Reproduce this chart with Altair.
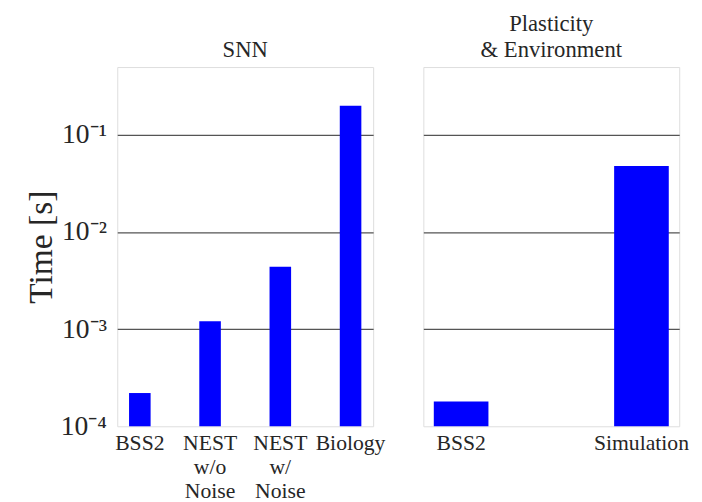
import altair as alt
import pandas as pd

# ---- data ----
snn_categories = ["BSS2", "NEST\nw/o\nNoise", "NEST\nw/\nNoise", "Biology"]
snn_times = [2.2e-4, 1.21e-3, 4.4e-3, 0.20]
env_categories = ["BSS2", "Simulation"]
env_times = [1.8e-4, 0.048]
y_tick_values = [1e-4, 1e-3, 1e-2, 1e-1]
y_tick_labels = ["10⁻⁴", "10⁻³", "10⁻²", "10⁻¹"]
y_min, y_max = 1e-4, 0.5
snn_title = "SNN"
env_title = ["Plasticity", "& Environment"]
y_title = "Time [s]"

FONT = "Liberation Serif"
TEXT = "#262626"
BAR = "#0000ff"

snn_df = pd.DataFrame({"cat": snn_categories, "time": snn_times})
env_df = pd.DataFrame({"cat": env_categories, "time": env_times})

label_expr = ""
for v, l in zip(y_tick_values, y_tick_labels):
    label_expr += f"datum.value < {v * 1.5} ? '{l}' : "
label_expr += "''"

y_scale = alt.Scale(type="log", domain=[y_min, y_max], nice=False)
grid_opacity = {"condition": {"test": "datum.value < 0.00015", "value": 0}, "value": 1}

x_axis = alt.Axis(title=None, labelAngle=0, ticks=False, domain=False,
                  labelExpr="split(datum.label, '\\n')", labelFontSize=22,
                  labelLineHeight=24, labelPadding=7, labelFont=FONT,
                  labelColor=TEXT, labelBaseline="top")

left = alt.Chart(snn_df).mark_bar(color=BAR).encode(
    x=alt.X("cat:N", sort=snn_categories, axis=x_axis,
            scale=alt.Scale(paddingInner=0.693, paddingOuter=0.168)),
    y=alt.Y("time:Q", scale=y_scale,
            axis=alt.Axis(title=y_title, values=y_tick_values, labelExpr=label_expr,
                          labelFontSize=28, labelFont=FONT, labelColor=TEXT,
                          labelPadding=11, ticks=False, domain=False,
                          titleFont=FONT, titleFontSize=34, titleFontWeight="normal",
                          titleColor=TEXT, titlePadding=2,
                          grid=True, gridColor="#555555", gridWidth=1.2,
                          gridOpacity=grid_opacity)),
    y2=alt.datum(y_min),
).properties(
    width=260, height=365,
    title=alt.TitleParams(snn_title, font=FONT, fontSize=23, fontWeight="normal",
                          color=TEXT, offset=5, lineHeight=27),
)

right = alt.Chart(env_df).mark_bar(color=BAR).encode(
    x=alt.X("cat:N", sort=env_categories, axis=x_axis,
            scale=alt.Scale(paddingInner=0.697, paddingOuter=0.058)),
    y=alt.Y("time:Q", scale=y_scale,
            axis=alt.Axis(title=None, values=y_tick_values, labels=False,
                          ticks=False, domain=False,
                          grid=True, gridColor="#555555", gridWidth=1.2,
                          gridOpacity=grid_opacity)),
    y2=alt.datum(y_min),
).properties(
    width=260, height=365,
    title=alt.TitleParams(env_title, font=FONT, fontSize=23, fontWeight="normal",
                          color=TEXT, offset=5, lineHeight=27),
)

chart = alt.hconcat(left, right, spacing=51, bounds="flush").resolve_scale(
    y="independent", x="independent"
).properties(
    padding={"left": 16, "right": 5, "top": 0, "bottom": 0},
).configure_view(
    stroke="#cccccc", strokeWidth=1.5
).configure_title(
    font=FONT, fontWeight="normal", color=TEXT
).configure_axis(
    labelFont=FONT, titleFont=FONT
).configure(background="white", font=FONT)

chart.save("out.html", embed_options={"renderer": "svg", "actions": False})
